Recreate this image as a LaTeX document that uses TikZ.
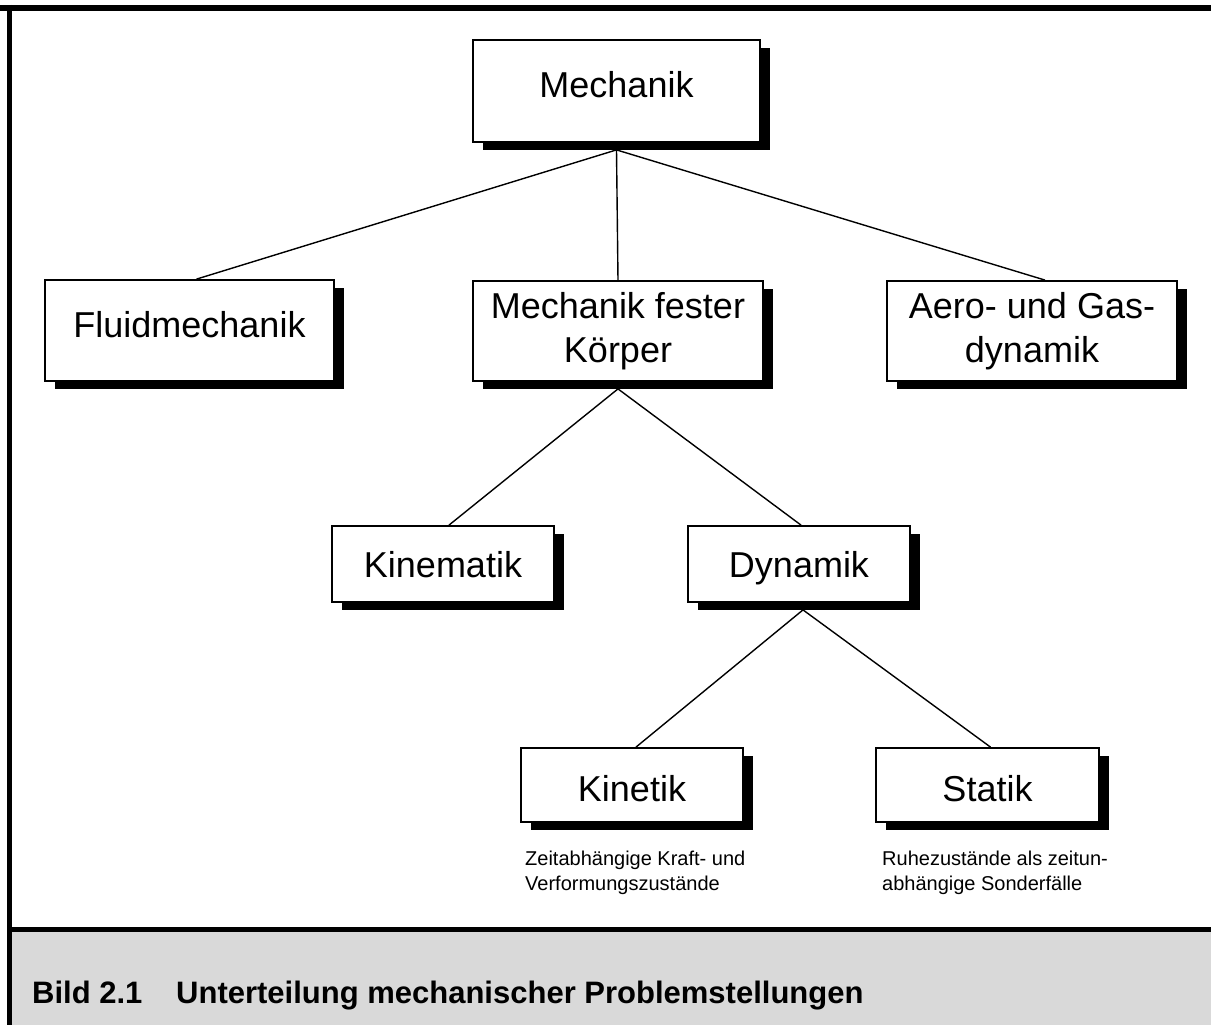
\documentclass[tikz,border=0pt]{standalone}
\usepackage{fontspec}
\setmainfont{Liberation Sans}
\usetikzlibrary{shadows}
\definecolor{capgray}{RGB}{217,217,217}
\tikzset{
  box/.style={draw, fill=white, line width=1.8pt, inner sep=0pt, align=center,
    font=\fontsize{36}{44}\selectfont,
    general shadow={shadow xshift=10pt, shadow yshift=-8pt, fill=black, opacity=1}},
  single/.style={text height=26pt, text depth=#1},
  link/.style={line width=1.4pt},
  note/.style={align=left, inner sep=0pt, font=\fontsize{20}{25}\selectfont},
  capt/.style={inner sep=0pt, font=\fontsize{31}{36}\selectfont\bfseries}
}
\begin{document}
\begin{tikzpicture}[x=1pt, y=-1pt]
\useasboundingbox (0,0) rectangle (1211,1025);
% frame
\fill[capgray] (7,932) rectangle (1211,1025);
\draw[line width=6pt] (0,8) -- (1211,8);
\draw[line width=5pt] (9.5,5) -- (9.5,1025);
\draw[line width=5pt] (7,929.5) -- (1211,929.5);
% boxes
\node[box, single=12pt, minimum width=287pt, minimum height=102pt] (mech) at (616.5,91) {Mechanik};
\node[box, single=12pt, minimum width=289pt, minimum height=101pt] (fluid) at (189.5,330.5) {Fluidmechanik};
\node[box, minimum width=290pt, minimum height=100pt] (mfk) at (618,331) {Mechanik fester\\Körper};
\node[box, minimum width=290pt, minimum height=100pt] (aero) at (1032,331) {Aero- und Gas-\\dynamik};
\node[box, single=0pt, minimum width=222pt, minimum height=76pt] (kinem) at (443,564) {Kinematik};
\node[box, single=0pt, minimum width=222pt, minimum height=76pt] (dyn) at (799,564) {Dynamik};
\node[box, single=0pt, text height=32pt, minimum width=222pt, minimum height=74pt] (kinet) at (632,785) {Kinetik};
\node[box, single=0pt, text height=32pt, minimum width=223pt, minimum height=74pt] (stat) at (987.5,785) {Statik};
% notes
\node[note, anchor=base west] (kinet-note) at (525,890) {Zeitabhängige Kraft- und\\Verformungszustände};
\node[note, anchor=base west] (stat-note) at (882,890) {Ruhezustände als zeitun-\\abhängige Sonderfälle};
% caption
\node[capt, anchor=base west] (cap-num) at (32,1003) {Bild 2.1};
\node[capt, anchor=base west] (cap-text) at (176,1003) {Unterteilung mechanischer Problemstellungen};
% connectors
\coordinate (mech-b) at ([yshift=-7pt]mech.south);
\coordinate (mfk-b) at ([yshift=-7pt]mfk.south);
\coordinate (dyn-b) at ([yshift=-7pt, xshift=4pt]dyn.south);
\draw[link] (mech-b) -- ([xshift=7pt]fluid.north);
\draw[link] (mech-b) -- (mfk.north);
\draw[link] (mech-b) -- ([xshift=13pt]aero.north);
\draw[link] (mfk-b) -- ([xshift=6pt]kinem.north);
\draw[link] (mfk-b) -- ([xshift=2pt]dyn.north);
\draw[link] (dyn-b) -- ([xshift=4pt]kinet.north);
\draw[link] (dyn-b) -- ([xshift=3pt]stat.north);
\end{tikzpicture}
\end{document}
